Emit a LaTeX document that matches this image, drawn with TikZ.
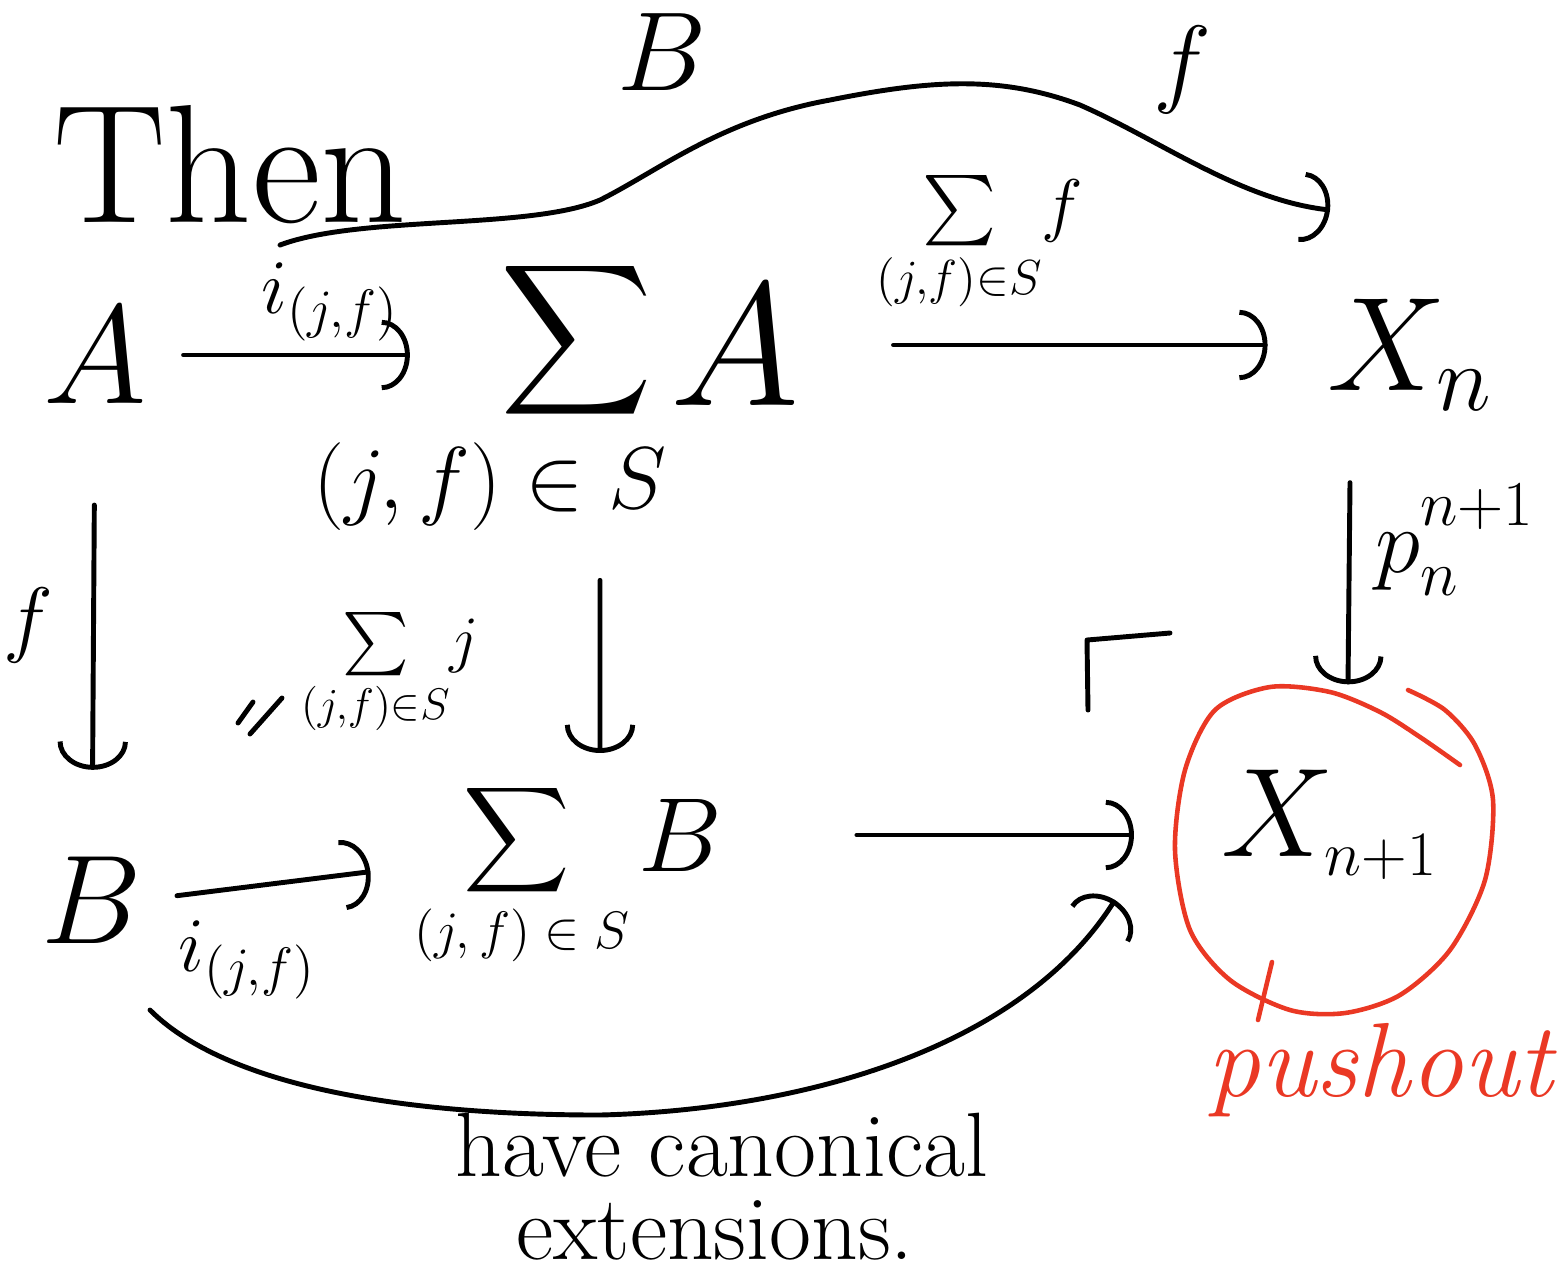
\documentclass[tikz,border=0pt]{standalone}
\usepackage{amsmath}
\DeclareFontShape{OML}{cmm}{m}{it}{<-6>cmmi5<6-7>cmmi6<7-8>cmmi7<8-9>cmmi8<9-10>cmmi9<10-12>cmmi10<12->cmmi12}{}
\DeclareFontShape{OMS}{cmsy}{m}{n}{<-6>cmsy5<6-7>cmsy6<7-8>cmsy7<8-9>cmsy8<9-10>cmsy9<10->cmsy10}{}
\DeclareFontShape{OMX}{cmex}{m}{n}{<->cmex10}{}
\DeclareFontShape{OT1}{cmr}{m}{n}{<-6>cmr5<6-7>cmr6<7-8>cmr7<8-9>cmr8<9-10>cmr9<10-12>cmr10<12-17>cmr12<17->cmr17}{}
\usetikzlibrary{arrows.meta}
\definecolor{pushred}{RGB}{234,56,36}
\begin{document}
\begin{tikzpicture}[
  every node/.style={inner sep=0pt, outer sep=0pt},
  big/.style={font=\fontsize{40}{44}\selectfont},
  sub/.style={font=\fontsize{25}{28}\selectfont},
  lab/.style={font=\fontsize{22}{26}\selectfont},
  hand/.style={line width=1.4pt, line cap=round, line join=round},
  arr/.style={hand, -{Arc Barb[length=8pt,width=20pt,line width=1.4pt]}},
  redink/.style={line width=1.3pt, draw=pushred, line cap=round, line join=round},
]
\useasboundingbox (0,0) rectangle (15.67,-12.86);

% objects
\node[font=\fontsize{48}{52}\selectfont] (then) at (2.3,-1.65) {Then};
\node[big] (A) at (0.95,-3.55) {$A$};
\node[font=\fontsize{30}{34}\selectfont] (SA) at (5.77,-3.4) {$\displaystyle\sum$};
\node[font=\fontsize{50}{54}\selectfont] (SAa) at (7.35,-3.45) {$A$};
\node[sub] (SAs) at (4.9,-4.87) {$(j,f)\in S$};
\node[font=\fontsize{38}{42}\selectfont] (Xn) at (14.1,-3.55) {$X_n$};
\node[font=\fontsize{36}{40}\selectfont] (B) at (0.92,-9.0) {$B$};
\node[font=\fontsize{21}{24}\selectfont] (SB) at (5.17,-8.4) {$\displaystyle\sum$};
\node[font=\fontsize{30}{34}\selectfont] (SBb) at (6.8,-8.35) {$B$};
\node[font=\fontsize{15}{18}\selectfont] (SBs) at (5.22,-9.35) {$(j,f)\in S$};
\node[font=\fontsize{36}{40}\selectfont] (Xn1) at (13.3,-8.25) {$X_{\scriptscriptstyle n+1}$};

% labels
\node[lab] (lAi) at (3.3,-3.02) {$i_{(j,f)}$};
\node[font=\fontsize{20}{24}\selectfont] (lSf) at (9.8,-2.45) {$\sum\limits_{(j,f)\in S}\! f$};
\node[font=\fontsize{24}{28}\selectfont] (lf) at (0.28,-6.25) {$f$};
\node[font=\fontsize{18}{22}\selectfont] (lSj) at (3.9,-6.75) {$\sum\limits_{(j,f)\in S}\! j$};
\node[font=\fontsize{26}{30}\selectfont] (lp) at (14.55,-5.4) {$p_n^{\raisebox{4pt}{$\scriptstyle n+1$}}$};
\node[lab] (lBi) at (2.47,-9.6) {$i_{(j,f)}$};
\node[font=\fontsize{32}{36}\selectfont] (lTB) at (6.62,-0.52) {$B$};
\node[font=\fontsize{28}{32}\selectfont] (lTf) at (11.82,-0.7) {$f$};
\node[font=\fontsize{26}{30}\selectfont] (have) at (7.22,-11.45) {have canonical};
\node[font=\fontsize{26}{30}\selectfont] (ext) at (7.15,-12.3) {extensions.};
\node[font=\fontsize{30}{34}\selectfont\itshape, text=pushred] (push) at (13.8,-10.7) {pushout};

% tick marks near sum j
\draw[hand] (2.38,-7.23) -- (2.53,-7.02);
\draw[hand] (2.5,-7.34) -- (2.82,-6.98);

% arrows
\draw[arr, shorten <=0.37cm, shorten >=0.91cm] (A.east) -- (A.east -| SA.west);
\draw[arr, shorten <=0.94cm, shorten >=0.6cm] (SAa.east) -- (SAa.east -| Xn.west);
\draw[arr, shorten <=1.02cm, shorten >=0.87cm] (A.south) -- (B.north);
\draw[arr, shorten <=1.56cm] ([xshift=0.23cm]SA.south) -- ([xshift=0.83cm,yshift=0.28cm]SB.north);
\draw[arr] ([xshift=-0.6cm,yshift=-0.72cm]Xn.south) -- ([xshift=0.18cm,yshift=0.86cm]Xn1.north);
\draw[arr, shorten <=0.35cm, shorten >=0.94cm] (B.east) -- ([yshift=-0.2cm]SB.west);
\draw[arr, shorten <=1.35cm, shorten >=0.88cm] (SBb.east) -- (SBb.east -| Xn1.west);

% curved arrows
\draw[arr] ([shift={(1.85,1.1)}]A.center) .. controls +(0.8,0.3) and +(-0.7,-0.3) .. (6.0,-2.0)
  .. controls +(0.6,0.3) and +(-1.1,-0.2) .. (8.3,-1.0)
  .. controls +(1.0,0.2) and +(-0.8,0.3) .. (10.8,-1.05)
  .. controls +(0.8,-0.35) and +(-0.9,0.1) .. ([shift={(-0.8,1.45)}]Xn.center);
\draw[arr] ([shift={(0.58,-1.1)}]B.center) .. controls +(0.7,-0.7) and +(-2.2,0) .. (6.0,-11.15)
  .. controls +(2.0,0.05) and +(-0.95,-1.5) .. ([shift={(-2.15,-0.75)}]Xn1.center);

% pushout corner
\draw[hand] (10.88,-7.1) -- (10.87,-6.4) -- (11.7,-6.33);

% red circle
\draw[redink] plot[smooth] coordinates {(14.6,-7.65) (14.2,-7.37) (13.8,-7.12) (13.3,-6.92) (12.7,-6.87) (12.15,-7.1) (11.85,-7.7) (11.75,-8.5) (11.9,-9.3) (12.3,-9.8) (12.9,-10.1) (13.45,-10.13) (14.0,-9.95) (14.5,-9.5) (14.85,-8.8) (14.93,-8.0) (14.75,-7.45) (14.45,-7.1) (14.08,-6.9)};
\draw[redink] (12.72,-9.62) -- (12.58,-10.2);
\end{tikzpicture}
\end{document}
